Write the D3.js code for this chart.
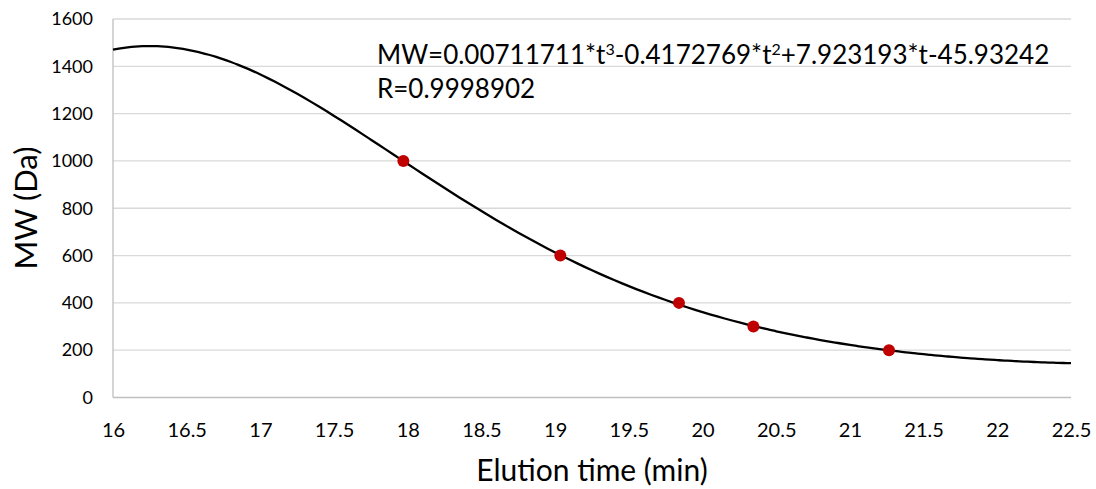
<!DOCTYPE html>
<html>
<head>
<meta charset="utf-8">
<script src="https://cdn.jsdelivr.net/npm/d3@7"></script>
<style>
  body { margin: 0; background: #fff; }
  text { font-family: Lato, "Open Sans", sans-serif; fill: #000; }
</style>
</head>
<body>
<div id="viz"></div>
<script>
// calibration points
var elution = [17.97, 19.035, 19.84, 20.345, 21.265];
var mw = [1000, 600, 400, 300, 200];

// trendline coefficients as printed on the chart (log10 MW = a t^3 + b t^2 + c t + d)
var coef = [0.00711711, -0.4172769, 7.923193, -45.93242];

var xTicks = [16, 16.5, 17, 17.5, 18, 18.5, 19, 19.5, 20, 20.5, 21, 21.5, 22, 22.5];
var yTicks = [0, 200, 400, 600, 800, 1000, 1200, 1400, 1600];

var w = 1096, h = 489;
var m = {left: 113, right: 25, top: 19, bottom: 91.5};

var svg = d3.select('#viz').append('svg')
  .attr('width', w)
  .attr('height', h);

var x = d3.scaleLinear().domain([16, 22.5]).range([m.left, w - m.right]);
var y = d3.scaleLinear().domain([0, 1600]).range([h - m.bottom, m.top]);

// gridlines
svg.append('g')
  .selectAll('line')
  .data(yTicks.slice(1))
  .enter()
  .append('line')
    .attr('x1', x(16))
    .attr('x2', x(22.5))
    .attr('y1', d => y(d))
    .attr('y2', d => y(d))
    .attr('stroke', '#d9d9d9')
    .attr('stroke-width', 1.3);

// axis lines
svg.append('line')
  .attr('x1', x(16)).attr('x2', x(16))
  .attr('y1', y(0)).attr('y2', y(1600))
  .attr('stroke', '#bfbfbf').attr('stroke-width', 1.3);
svg.append('line')
  .attr('x1', x(16)).attr('x2', x(22.5))
  .attr('y1', y(0)).attr('y2', y(0))
  .attr('stroke', '#bfbfbf').attr('stroke-width', 1.3);

// tick labels
var yAxis = d3.axisLeft(y).tickValues(yTicks).tickSize(0).tickPadding(20).tickFormat(d => String(d));
svg.append('g')
  .attr('transform', 'translate(' + m.left + ',0)')
  .call(yAxis)
  .call(g => g.select('.domain').remove())
  .selectAll('text')
    .style('font-size', '18px')
    .style('font-family', 'Lato, sans-serif');

var xAxis = d3.axisBottom(x).tickValues(xTicks).tickSize(0).tickPadding(25).tickFormat(d => String(d));
svg.append('g')
  .attr('transform', 'translate(0,' + y(0) + ')')
  .call(xAxis)
  .call(g => g.select('.domain').remove())
  .selectAll('text')
    .style('font-size', '20px')
    .style('font-family', 'Lato, sans-serif');

// trendline
var poly = t => Math.pow(10, coef[0]*t*t*t + coef[1]*t*t + coef[2]*t + coef[3]);
var ts = d3.range(16, 22.5001, 0.05);
var line = d3.line()
  .x(t => x(t))
  .y(t => y(poly(t)))
  .curve(d3.curveCatmullRom);

svg.append('path')
  .datum(ts)
  .attr('d', line)
  .attr('fill', 'none')
  .attr('stroke', '#000')
  .attr('stroke-width', 2.3);

// points
svg.append('g')
  .selectAll('circle')
  .data(elution)
  .enter()
  .append('circle')
    .attr('cx', d => x(d))
    .attr('cy', (d, i) => y(mw[i]))
    .attr('r', 6)
    .attr('fill', '#c00000');

// equation
var eq = svg.append('text')
  .attr('x', 377)
  .attr('y', 64)
  .style('font-size', '26px');
eq.append('tspan').text('MW=0.00711711*t');
eq.append('tspan').attr('dy', -9).style('font-size', '16px').text('3');
eq.append('tspan').attr('dy', 9).text('-0.4172769*t');
eq.append('tspan').attr('dy', -9).style('font-size', '16px').text('2');
eq.append('tspan').attr('dy', 9).text('+7.923193*t-45.93242');

svg.append('text')
  .attr('x', 377)
  .attr('y', 98)
  .style('font-size', '26px')
  .text('R=0.9998902');

// axis titles
svg.append('text')
  .attr('x', 592)
  .attr('y', 481)
  .attr('text-anchor', 'middle')
  .style('font-size', '30px')
  .text('Elution time (min)');

svg.append('text')
  .attr('transform', 'translate(37,208) rotate(-90)')
  .attr('text-anchor', 'middle')
  .style('font-size', '31px')
  .text('MW (Da)');
</script>
</body>
</html>
